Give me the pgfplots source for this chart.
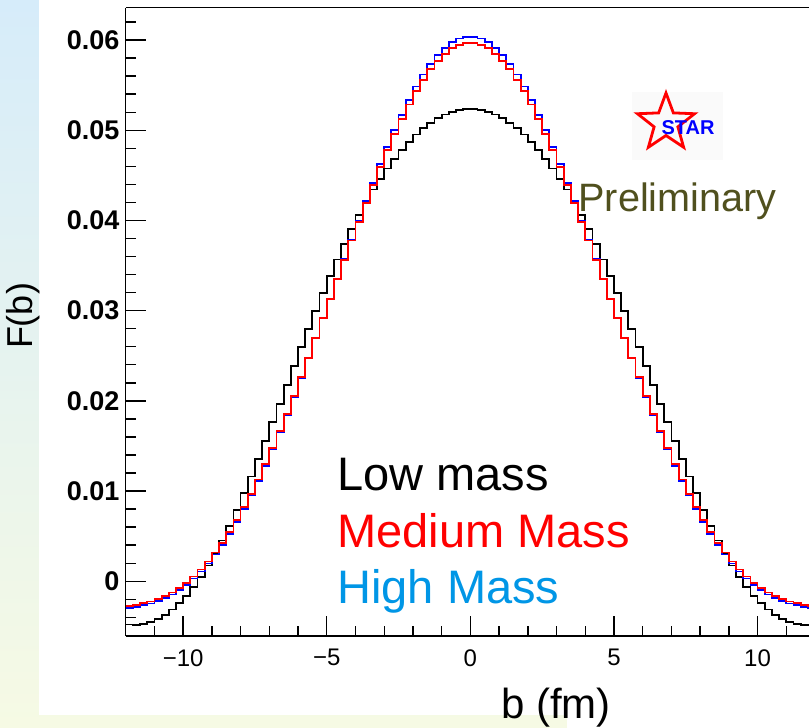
\documentclass[border=0pt]{standalone}
\usepackage{fontspec}
\setmainfont{Liberation Sans}
\usepackage{pgfplots}
\pgfplotsset{compat=1.18}
\usepackage{pgfplotstable}
\usetikzlibrary{shapes.geometric}
\definecolor{prelim}{RGB}{80,80,30}
\definecolor{highmass}{RGB}{0,150,230}
\definecolor{bgtop}{RGB}{214,236,250}
\definecolor{bgbot}{RGB}{246,250,228}

\pgfplotstableread{
x k r bl
-12.00 -0.00480 -0.00271 -0.00293
-11.75 -0.00484 -0.00260 -0.00282
-11.50 -0.00472 -0.00245 -0.00267
-11.25 -0.00449 -0.00225 -0.00247
-11.00 -0.00415 -0.00199 -0.00221
-10.75 -0.00370 -0.00166 -0.00188
-10.50 -0.00313 -0.00125 -0.00147
-10.25 -0.00243 -0.00075 -0.00097
-10.00 -0.00160 -0.00017 -0.00039
-9.75 -0.00062 0.00052 0.00030
-9.50 0.00050 0.00130 0.00108
-9.25 0.00175 0.00219 0.00197
-9.00 0.00311 0.00318 0.00296
-8.75 0.00451 0.00428 0.00406
-8.50 0.00617 0.00548 0.00527
-8.25 0.00791 0.00678 0.00658
-8.00 0.00977 0.00819 0.00800
-7.75 0.01161 0.00969 0.00951
-7.50 0.01357 0.01129 0.01112
-7.25 0.01557 0.01298 0.01282
-7.00 0.01765 0.01476 0.01462
-6.75 0.01968 0.01662 0.01650
-6.50 0.02180 0.01855 0.01845
-6.25 0.02390 0.02053 0.02045
-6.00 0.02593 0.02262 0.02256
-5.75 0.02800 0.02478 0.02475
-5.50 0.03000 0.02699 0.02697
-5.25 0.03193 0.02917 0.02917
-5.00 0.03388 0.03133 0.03135
-4.75 0.03566 0.03349 0.03353
-4.50 0.03740 0.03564 0.03571
-4.25 0.03907 0.03777 0.03787
-4.00 0.04062 0.03987 0.04000
-3.75 0.04206 0.04195 0.04213
-3.50 0.04343 0.04397 0.04419
-3.25 0.04462 0.04594 0.04622
-3.00 0.04576 0.04783 0.04816
-2.75 0.04681 0.04960 0.04999
-2.50 0.04779 0.05125 0.05169
-2.25 0.04870 0.05286 0.05335
-2.00 0.04953 0.05431 0.05484
-1.75 0.05023 0.05561 0.05619
-1.50 0.05083 0.05675 0.05736
-1.25 0.05134 0.05767 0.05830
-1.00 0.05175 0.05847 0.05914
-0.75 0.05205 0.05908 0.05978
-0.50 0.05228 0.05945 0.06017
-0.25 0.05239 0.05963 0.06037
0.00 0.05239 0.05963 0.06037
0.25 0.05228 0.05945 0.06017
0.50 0.05205 0.05908 0.05978
0.75 0.05175 0.05847 0.05914
1.00 0.05134 0.05767 0.05830
1.25 0.05083 0.05675 0.05736
1.50 0.05023 0.05561 0.05619
1.75 0.04953 0.05431 0.05484
2.00 0.04870 0.05286 0.05335
2.25 0.04779 0.05125 0.05169
2.50 0.04681 0.04960 0.04999
2.75 0.04576 0.04783 0.04816
3.00 0.04462 0.04594 0.04622
3.25 0.04343 0.04397 0.04419
3.50 0.04206 0.04195 0.04213
3.75 0.04062 0.03987 0.04000
4.00 0.03907 0.03777 0.03787
4.25 0.03740 0.03564 0.03571
4.50 0.03566 0.03349 0.03353
4.75 0.03388 0.03133 0.03135
5.00 0.03193 0.02917 0.02917
5.25 0.03000 0.02699 0.02697
5.50 0.02800 0.02478 0.02475
5.75 0.02593 0.02262 0.02256
6.00 0.02390 0.02053 0.02045
6.25 0.02180 0.01855 0.01845
6.50 0.01968 0.01662 0.01650
6.75 0.01765 0.01476 0.01462
7.00 0.01557 0.01298 0.01282
7.25 0.01357 0.01129 0.01112
7.50 0.01161 0.00969 0.00951
7.75 0.00977 0.00819 0.00800
8.00 0.00791 0.00678 0.00658
8.25 0.00617 0.00548 0.00527
8.50 0.00451 0.00428 0.00406
8.75 0.00311 0.00318 0.00296
9.00 0.00175 0.00219 0.00197
9.25 0.00050 0.00130 0.00108
9.50 -0.00062 0.00052 0.00030
9.75 -0.00160 -0.00017 -0.00039
10.00 -0.00243 -0.00075 -0.00097
10.25 -0.00313 -0.00125 -0.00147
10.50 -0.00370 -0.00166 -0.00188
10.75 -0.00415 -0.00199 -0.00221
11.00 -0.00449 -0.00225 -0.00247
11.25 -0.00472 -0.00245 -0.00267
11.50 -0.00484 -0.00260 -0.00282
11.75 -0.00480 -0.00271 -0.00293
12.00 -0.00480 -0.00271 -0.00293
}\histdata

\begin{document}
\begin{tikzpicture}[x=0.5pt,y=-0.5pt]
\useasboundingbox (0,0) rectangle (809,728);
\shade[top color=bgtop,bottom color=bgbot] (0,0) rectangle (809,728);
\fill[white] (39,0) rectangle (809,715);
\fill[white] (567,715) rectangle (809,728);
\coordinate (O) at (125.7,636);
\begin{axis}[
  at={(O)}, anchor=south west,
  scale only axis, width=341.65pt, height=314.15pt,
  xmin=-12, xmax=11.79, ymin=-0.00607, ymax=0.063585,
  axis x line=bottom, axis y line=left,
  axis line style={-, line width=0.75pt, black},
  tick align=inside,
  major tick length=10pt, minor tick length=5pt,
  every tick/.style={black, line width=0.7pt},
  scaled x ticks=false, scaled y ticks=false,
  xtick={-10,-5,0,5,10},
  xticklabels={−10,−5,0,5,10},
  minor xtick={-12,-11,-9,-8,-7,-6,-4,-3,-2,-1,1,2,3,4,6,7,8,9,11},
  ytick={0,0.01,0.02,0.03,0.04,0.05,0.06},
  yticklabels={0,0.01,0.02,0.03,0.04,0.05,0.06},
  minor ytick={-0.006,-0.004,-0.002,0.002,0.004,0.006,0.008,0.012,0.014,0.016,0.018,0.022,0.024,0.026,0.028,0.032,0.034,0.036,0.038,0.042,0.044,0.046,0.048,0.052,0.054,0.056,0.058,0.062},
  xticklabel style={font=\fontsize{12}{12}\selectfont, inner ysep=0pt, yshift=-6.5pt},
  yticklabel style={font=\fontsize{13.5}{13.5}\selectfont\bfseries, inner xsep=0pt, xshift=-2.9pt},
  clip mode=individual,
]
\addplot[const plot, black, line width=0.9pt] table[x=x, y=k] {\histdata};
\addplot[const plot, blue, line width=0.9pt] table[x=x, y=bl] {\histdata};
\addplot[const plot, red, line width=0.9pt] table[x=x, y=r] {\histdata};
\end{axis}
\draw[line width=0.75pt] (125.7,7.7) -- (809,7.7);
\node[anchor=base west, inner sep=0pt, font=\fontsize{23.5}{23.5}\selectfont] at (337,490) {Low mass};
\node[anchor=base west, inner sep=0pt, font=\fontsize{23.5}{23.5}\selectfont, text=red] at (337,547) {Medium Mass};
\node[anchor=base west, inner sep=0pt, font=\fontsize{23.5}{23.5}\selectfont, text=highmass] at (337,603) {High Mass};
\node[anchor=base west, inner sep=0pt, font=\fontsize{19.8}{19.8}\selectfont, text=prelim] at (578,211.7) {Preliminary};
\fill[black!2] (632,92) rectangle (723,160);
\node[star, star points=5, star point ratio=2.4, minimum size=30pt, draw=red, line width=1.4pt, inner sep=0pt] at (666,123) {};
\node[inner sep=0pt, font=\bfseries\fontsize{10}{10}\selectfont, text=blue] at (688,128) {STAR};
\node[rotate=90, inner sep=0pt, font=\fontsize{18}{18}\selectfont] at (23,316) {F(b)};
\node[anchor=base, inner sep=0pt, font=\fontsize{21}{21}\selectfont] at (556,718.6) {b (fm)};
\end{tikzpicture}
\end{document}
